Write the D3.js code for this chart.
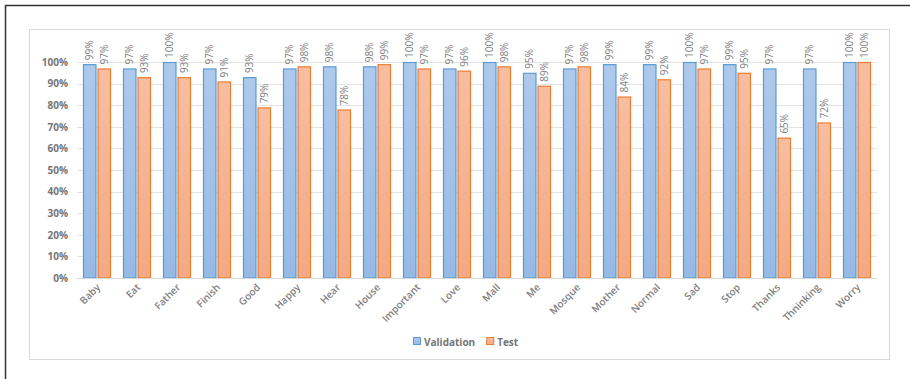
<!DOCTYPE html>
<html>
<head>
<meta charset="utf-8">
<script src="https://cdn.jsdelivr.net/npm/d3@7"></script>
<style>
  html, body { margin: 0; padding: 0; background: #fff; }
  svg { display: block; }
</style>
</head>
<body>
<svg id="chart" width="910" height="379"></svg>
<script>
// Per-word accuracy for the validation and test sets
const categories = ["Baby", "Eat", "Father", "Finish", "Good", "Happy", "Hear", "House", "Important", "Love",
  "Mall", "Me", "Mosque", "Mother", "Normal", "Sad", "Stop", "Thanks", "Thninking", "Worry"];
const validation = [99, 97, 100, 97, 93, 97, 98, 98, 100, 97, 100, 95, 97, 99, 99, 100, 99, 97, 97, 100];
const test = [97, 93, 93, 91, 79, 98, 78, 99, 97, 96, 98, 89, 98, 84, 92, 97, 95, 65, 72, 100];
const yTicks = [0, 10, 20, 30, 40, 50, 60, 70, 80, 90, 100];
const seriesNames = ["Validation", "Test"];

const svg = d3.select("#chart");
const W = 910, H = 379;
const plot = { left: 77, right: 877, top: 62, bottom: 278 };
const textColor = "#757575";
const labelColor = "#7f7f7f";
const fontFamily = "'Open Sans', 'Liberation Sans', sans-serif";

const styles = [
  { fillTop: "#adc9ec", fillBottom: "#97bae5", stroke: "#5b9bd5" },
  { fillTop: "#f7bea2", fillBottom: "#f3a983", stroke: "#ed7d31" }
];

// gradients for bar fills
const defs = svg.append("defs");
styles.forEach((s, i) => {
  const g = defs.append("linearGradient").attr("id", "grad" + i)
    .attr("x1", 0).attr("y1", 0).attr("x2", 0).attr("y2", 1);
  g.append("stop").attr("offset", "0%").attr("stop-color", s.fillTop);
  g.append("stop").attr("offset", "100%").attr("stop-color", s.fillBottom);
});

// outer frame (top and left edges)
svg.append("line").attr("x1", 5).attr("x2", W).attr("y1", 5.5).attr("y2", 5.5)
  .attr("stroke", "#333").attr("stroke-width", 1.5);
svg.append("line").attr("x1", 5.5).attr("x2", 5.5).attr("y1", 5).attr("y2", H)
  .attr("stroke", "#333").attr("stroke-width", 1.5);

// chart area border
svg.append("rect").attr("x", 29.5).attr("y", 29.5).attr("width", 860).attr("height", 330)
  .attr("fill", "#fff").attr("stroke", "#d9d9d9").attr("stroke-width", 1);

const x = d3.scaleBand().domain(categories).range([plot.left, plot.right]).paddingInner(0.3).paddingOuter(0.15);
const xSub = d3.scaleBand().domain(seriesNames).range([0, x.bandwidth()]).paddingInner(0.07);
const y = d3.scaleLinear().domain([0, 100]).range([plot.bottom, plot.top]);

// gridlines
svg.append("g").selectAll("line").data(yTicks.filter(t => t > 0)).join("line")
  .attr("x1", plot.left).attr("x2", plot.right)
  .attr("y1", d => Math.round(y(d)) + 0.5).attr("y2", d => Math.round(y(d)) + 0.5)
  .attr("stroke", "#e3e3e3").attr("stroke-width", 1);

// y axis labels
const yAxis = d3.axisLeft(y).tickValues(yTicks).tickFormat(d => d + "%").tickSize(0).tickPadding(9);
const yg = svg.append("g").attr("transform", `translate(${plot.left},0)`).call(yAxis);
yg.select(".domain").remove();
yg.selectAll("text").attr("fill", textColor).style("font-family", fontFamily)
  .style("font-size", "10px").style("font-weight", "bold");

// bars
const seriesData = [validation, test];
seriesData.forEach((vals, si) => {
  const g = svg.append("g");
  g.selectAll("rect").data(categories).join("rect")
    .attr("x", d => x(d) + xSub(seriesNames[si]) + 0.5)
    .attr("y", (d, i) => y(vals[i]) + 0.5)
    .attr("width", xSub.bandwidth() - 1)
    .attr("height", (d, i) => y(0) - y(vals[i]) - 0.5)
    .attr("fill", `url(#grad${si})`)
    .attr("stroke", styles[si].stroke).attr("stroke-width", 1.2);
  g.selectAll("text").data(categories).join("text")
    .attr("transform", (d, i) => {
      const cx = x(d) + xSub(seriesNames[si]) + xSub.bandwidth() / 2;
      return `translate(${cx + 3.5},${y(vals[i]) - 4}) rotate(-90)`;
    })
    .attr("fill", labelColor).style("font-family", fontFamily).style("font-size", "10px")
    .text((d, i) => vals[i] + "%");
});

// baseline
svg.append("line").attr("x1", plot.left).attr("x2", plot.right)
  .attr("y1", Math.round(y(0)) + 0.5).attr("y2", Math.round(y(0)) + 0.5)
  .attr("stroke", "#d9d9d9").attr("stroke-width", 1);

// x axis labels
const xAxis = d3.axisBottom(x).tickSize(0).tickPadding(0);
const xg = svg.append("g").attr("transform", `translate(0,${plot.bottom})`).call(xAxis);
xg.select(".domain").remove();
xg.selectAll("text")
  .attr("fill", labelColor).style("font-family", fontFamily).style("font-size", "10px").style("font-weight", "600")
  .attr("text-anchor", "end").attr("dy", null).attr("y", 0)
  .attr("transform", "translate(4,10) rotate(-45)");

// legend
const legend = svg.append("g").attr("transform", "translate(413,342)");
let lx = 0;
seriesNames.forEach((name, i) => {
  const item = legend.append("g").attr("transform", `translate(${lx},0)`);
  item.append("rect").attr("x", 0.5).attr("y", -4.5).attr("width", 7).attr("height", 7)
    .attr("fill", `url(#grad${i})`).attr("stroke", styles[i].stroke).attr("stroke-width", 1);
  const t = item.append("text").attr("x", 11).attr("y", 3.5)
    .attr("fill", textColor).style("font-family", fontFamily).style("font-size", "10px").style("font-weight", "bold")
    .text(name);
  lx += 11 + t.node().getComputedTextLength() + 11;
});
</script>
</body>
</html>
